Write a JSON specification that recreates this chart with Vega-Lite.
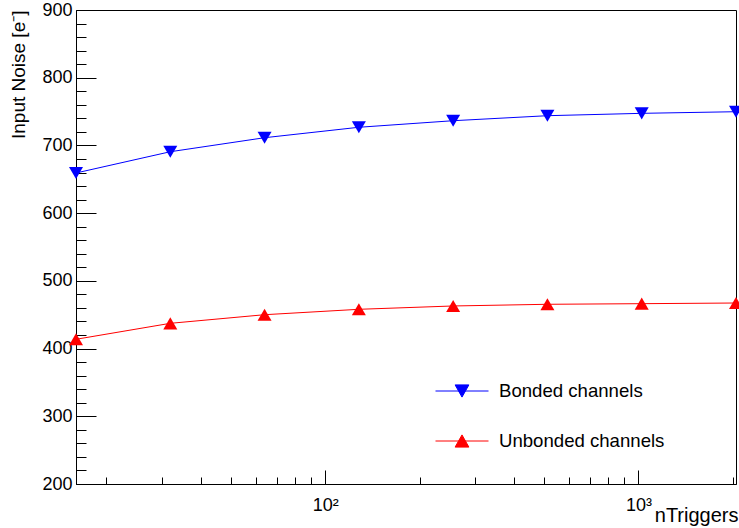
{
  "$schema": "https://vega.github.io/schema/vega-lite/v6.json",
  "width": 660,
  "height": 474,
  "autosize": {"type": "none"},
  "padding": {"left": 76, "top": 10, "right": 3, "bottom": 44},
  "background": "white",
  "config": {
    "font": "Liberation Sans",
    "view": {"stroke": "black", "strokeWidth": 1},
    "axis": {
      "domainColor": "black",
      "tickColor": "black",
      "labelColor": "black",
      "titleColor": "black",
      "labelFont": "Liberation Sans",
      "titleFont": "Liberation Sans",
      "titleFontWeight": "normal",
      "grid": false,
      "tickWidth": 1,
      "domainWidth": 1
    }
  },
  "data": {
    "values": [
      {"series": "Bonded channels", "nTriggers": 16, "noise": 659.3},
      {"series": "Bonded channels", "nTriggers": 32, "noise": 690.7},
      {"series": "Bonded channels", "nTriggers": 64, "noise": 711.4},
      {"series": "Bonded channels", "nTriggers": 128, "noise": 726.8},
      {"series": "Bonded channels", "nTriggers": 256, "noise": 736.5},
      {"series": "Bonded channels", "nTriggers": 512, "noise": 743.9},
      {"series": "Bonded channels", "nTriggers": 1024, "noise": 747.4},
      {"series": "Bonded channels", "nTriggers": 2048, "noise": 749.8},
      {"series": "Unbonded channels", "nTriggers": 16, "noise": 413.7},
      {"series": "Unbonded channels", "nTriggers": 32, "noise": 437.3},
      {"series": "Unbonded channels", "nTriggers": 64, "noise": 450.0},
      {"series": "Unbonded channels", "nTriggers": 128, "noise": 458.0},
      {"series": "Unbonded channels", "nTriggers": 256, "noise": 462.9},
      {"series": "Unbonded channels", "nTriggers": 512, "noise": 465.4},
      {"series": "Unbonded channels", "nTriggers": 1024, "noise": 466.3},
      {"series": "Unbonded channels", "nTriggers": 2048, "noise": 467.3}
    ]
  },
  "layer": [
    {
      "mark": {"type": "line", "strokeWidth": 1, "clip": false},
      "encoding": {
        "x": {
          "field": "nTriggers", "type": "quantitative",
          "scale": {"type": "log", "domain": [16, 2048], "nice": false},
          "axis": {
            "orient": "bottom",
            "values": [100, 1000],
            "labelExpr": "datum.value == 100 ? '10²' : '10³'",
            "tickSize": -14,
            "labelPadding": 26,
            "labelFontSize": 18,
            "labelBaseline": "top",
            "title": "nTriggers",
            "titleFontSize": 20,
            "titleAnchor": "end",
            "titleAlign": "right",
            "titleBaseline": "alphabetic",
            "titleX": 662,
            "titleY": 37
          }
        },
        "y": {
          "field": "noise", "type": "quantitative",
          "scale": {"domain": [200, 900], "nice": false, "zero": false},
          "axis": {
            "orient": "left",
            "values": [200, 300, 400, 500, 600, 700, 800, 900],
            "tickSize": -20,
            "labelPadding": 24,
            "labelFontSize": 18,
            "title": "Input Noise [e⁻]",
            "titleFontSize": 19,
            "titleAngle": -90,
            "titleAlign": "right",
            "titleBaseline": "alphabetic",
            "titleX": -52,
            "titleY": 0
          }
        },
        "color": {
          "field": "series", "type": "nominal",
          "scale": {"domain": ["Bonded channels", "Unbonded channels"], "range": ["#0000ff", "#ff0000"]},
          "legend": {
            "orient": "none",
            "legendX": 359,
            "legendY": 354,
            "title": null,
            "padding": 0,
            "symbolType": "M-1,0H1",
            "symbolSize": 2809,
            "symbolStrokeWidth": 1,
            "labelFontSize": 18.6,
            "labelColor": "black",
            "labelOffset": 10,
            "labelLimit": 400,
            "rowPadding": 13,
            "encode": {
              "symbols": {
                "update": {
                  "shape": {"signal": "datum.value === 'Bonded channels' ? 'M-1,0H1M-0.26,-0.23L0.26,-0.23L0,0.23Z' : 'M-1,0H1M-0.26,0.23L0.26,0.23L0,-0.23Z'"},
                  "fill": {"signal": "datum.value === 'Bonded channels' ? '#0000ff' : '#ff0000'"},
                  "fillOpacity": {"value": 1},
                  "stroke": {"signal": "datum.value === 'Bonded channels' ? '#0000ff' : '#ff0000'"}
                }
              }
            }
          }
        }
      }
    },
    {
      "transform": [{"filter": "datum.series === 'Bonded channels'"}],
      "mark": {"type": "point", "filled": true, "size": 196, "opacity": 1, "clip": false, "shape": "triangle-down", "color": "#0000ff"},
      "encoding": {
        "x": {
          "field": "nTriggers", "type": "quantitative",
          "scale": {"type": "log", "domain": [16, 2048], "nice": false},
          "axis": {
            "orient": "bottom",
            "values": [20, 30, 40, 50, 60, 70, 80, 90, 200, 300, 400, 500, 600, 700, 800, 900, 2000],
            "tickSize": -7,
            "labels": false,
            "domain": false,
            "title": null
          }
        },
        "y": {
          "field": "noise", "type": "quantitative",
          "scale": {"domain": [200, 900], "nice": false, "zero": false},
          "axis": {
            "orient": "left",
            "values": [220, 240, 260, 280, 320, 340, 360, 380, 420, 440, 460, 480, 520, 540, 560, 580, 620, 640, 660, 680, 720, 740, 760, 780, 820, 840, 860, 880],
            "tickSize": -10,
            "labels": false,
            "domain": false,
            "title": null
          }
        }
      }
    },
    {
      "transform": [{"filter": "datum.series === 'Unbonded channels'"}],
      "mark": {"type": "point", "filled": true, "size": 196, "opacity": 1, "clip": false, "shape": "triangle-up", "color": "#ff0000"},
      "encoding": {
        "x": {"field": "nTriggers", "type": "quantitative", "axis": null},
        "y": {"field": "noise", "type": "quantitative", "axis": null}
      }
    }
  ],
  "resolve": {"axis": {"x": "independent", "y": "independent"}}
}
